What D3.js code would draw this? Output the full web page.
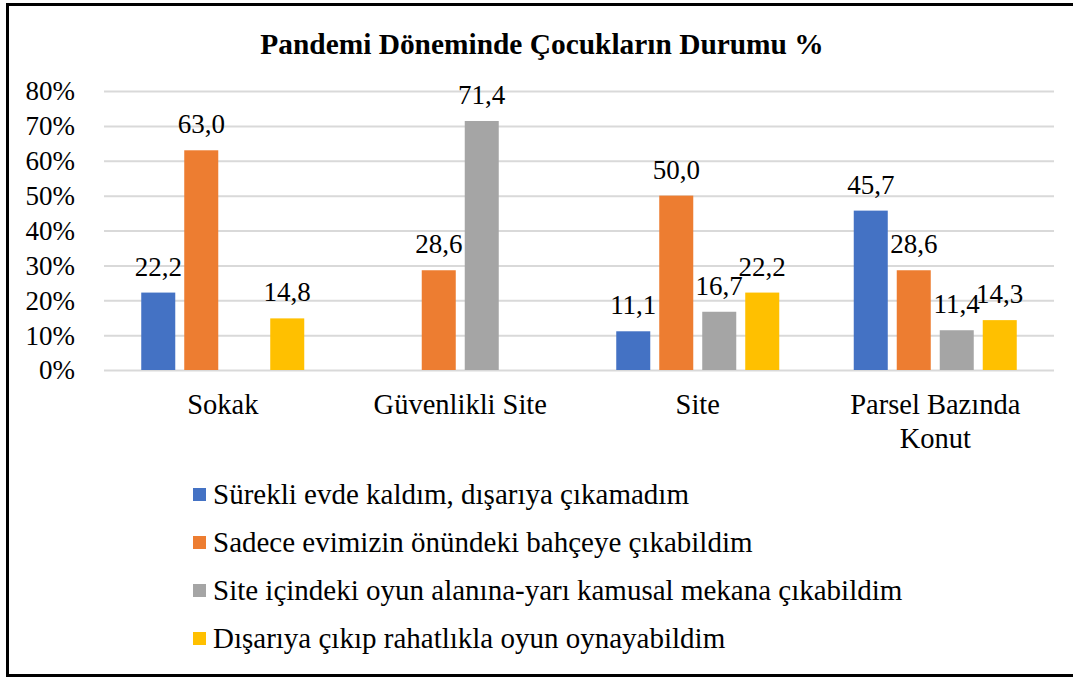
<!DOCTYPE html>
<html>
<head>
<meta charset="utf-8">
<script src="https://cdn.jsdelivr.net/npm/d3@7"></script>
<style>
  body { margin: 0; background: #fff; }
  svg { display: block; font-family: "Liberation Serif", serif; }
</style>
</head>
<body>
<svg id="chart" width="1073" height="678"></svg>
<script>
// chart data
var categories = ['Sokak', 'Güvenlikli Site', 'Site', 'Parsel Bazında Konut'];
var seriesNames = [
	'Sürekli evde kaldım, dışarıya çıkamadım',
	'Sadece evimizin önündeki bahçeye çıkabildim',
	'Site içindeki oyun alanına-yarı kamusal mekana çıkabildim',
	'Dışarıya çıkıp rahatlıkla oyun oynayabildim'
];
var seriesColors = ['#4472C4', '#ED7D31', '#A5A5A5', '#FFC000'];
// one array per series, one value per category (null = no bar)
var evdeKaldim = [22.2, null, 11.1, 45.7];
var bahceye = [63.0, 28.6, 50.0, 28.6];
var oyunAlani = [null, 71.4, 16.7, 11.4];
var rahatlikla = [14.8, null, 22.2, 14.3];
var seriesValues = [evdeKaldim, bahceye, oyunAlani, rahatlikla];
var yTicks = [0, 10, 20, 30, 40, 50, 60, 70, 80];

var FONT = '"Liberation Serif", serif';
var svg = d3.select('#chart');
var plot = { left: 104, right: 1054, top: 91, bottom: 370 };

function serif(sel, size) {
	return sel.attr('font-family', FONT).style('font-family', FONT)
		.style('font-size', size + 'px').attr('fill', '#000');
}

// frame round the whole chart (right edge falls outside the picture)
svg.append('rect')
	.attr('x', 7.5).attr('y', 4.5)
	.attr('width', 1080).attr('height', 671)
	.attr('fill', 'none').attr('stroke', '#000').attr('stroke-width', 3);

svg.append('text')
	.attr('x', 542).attr('y', 54)
	.attr('text-anchor', 'middle')
	.call(serif, 29.4)
	.style('font-weight', 'bold')
	.text('Pandemi Döneminde Çocukların Durumu %');

var y = d3.scaleLinear().domain([0, 80]).range([plot.bottom, plot.top]);
var x0 = d3.scaleBand().domain(categories).range([plot.left, plot.right]);
var groupWidth = 163;
var x1 = d3.scaleBand().domain(d3.range(seriesNames.length))
	.range([0, groupWidth]).paddingInner(0.209).paddingOuter(0);
var groupOffset = (x0.bandwidth() - groupWidth) / 2;

// gridlines + tick labels
var yAxis = svg.append('g')
	.attr('transform', 'translate(' + plot.left + ',0)')
	.call(d3.axisLeft(y).tickValues(yTicks)
		.tickSize(-(plot.right - plot.left))
		.tickFormat(function(d) { return d + '%'; }));
yAxis.attr('font-family', FONT);
yAxis.select('.domain').remove();
yAxis.selectAll('.tick line').attr('stroke', '#D9D9D9').attr('stroke-width', 2);
yAxis.selectAll('.tick text')
	.attr('x', -29).attr('dy', '0.33em')
	.call(serif, 27);

// bars
var bars = [];
seriesValues.forEach(function(vals, s) {
	vals.forEach(function(v, c) {
		if (v !== null) bars.push({ s: s, c: categories[c], v: v });
	});
});

svg.append('g').selectAll('rect').data(bars).enter().append('rect')
	.attr('x', function(d) { return x0(d.c) + groupOffset + x1(d.s); })
	.attr('y', function(d) { return y(d.v); })
	.attr('width', x1.bandwidth())
	.attr('height', function(d) { return plot.bottom - y(d.v); })
	.attr('fill', function(d) { return seriesColors[d.s]; });

// value labels
svg.append('g').selectAll('text').data(bars).enter().append('text')
	.attr('x', function(d) { return x0(d.c) + groupOffset + x1(d.s) + x1.bandwidth() / 2; })
	.attr('y', function(d) { return y(d.v) - 17; })
	.attr('text-anchor', 'middle')
	.call(serif, 27)
	.text(function(d) { return d.v.toFixed(1).replace('.', ','); });

// category labels, wrapped to the band width
var catLabels = svg.append('g').selectAll('text').data(categories).enter().append('text')
	.attr('x', function(d) { return x0(d) + x0.bandwidth() / 2; })
	.attr('y', 414)
	.attr('text-anchor', 'middle')
	.call(serif, 28.5);

catLabels.each(function(d) {
	var el = d3.select(this), words = d.split(' '), line = [];
	var tspan = el.append('tspan').attr('x', el.attr('x')).attr('dy', 0);
	words.forEach(function(w) {
		line.push(w);
		tspan.text(line.join(' '));
		if (tspan.node().getComputedTextLength() > x0.bandwidth() - 12 && line.length > 1) {
			line.pop();
			tspan.text(line.join(' '));
			line = [w];
			tspan = el.append('tspan').attr('x', el.attr('x')).attr('dy', '1.18em').text(w);
		}
	});
});

// legend
var legend = svg.append('g').selectAll('g').data(seriesNames).enter().append('g')
	.attr('transform', function(d, i) { return 'translate(193,' + (494 + i * 48) + ')'; });
legend.append('rect')
	.attr('x', 0).attr('y', -6).attr('width', 13).attr('height', 13)
	.attr('fill', function(d, i) { return seriesColors[i]; });
legend.append('text')
	.attr('x', 20).attr('dy', '0.33em')
	.call(serif, 29)
	.text(function(d) { return d; });
</script>
</body>
</html>
